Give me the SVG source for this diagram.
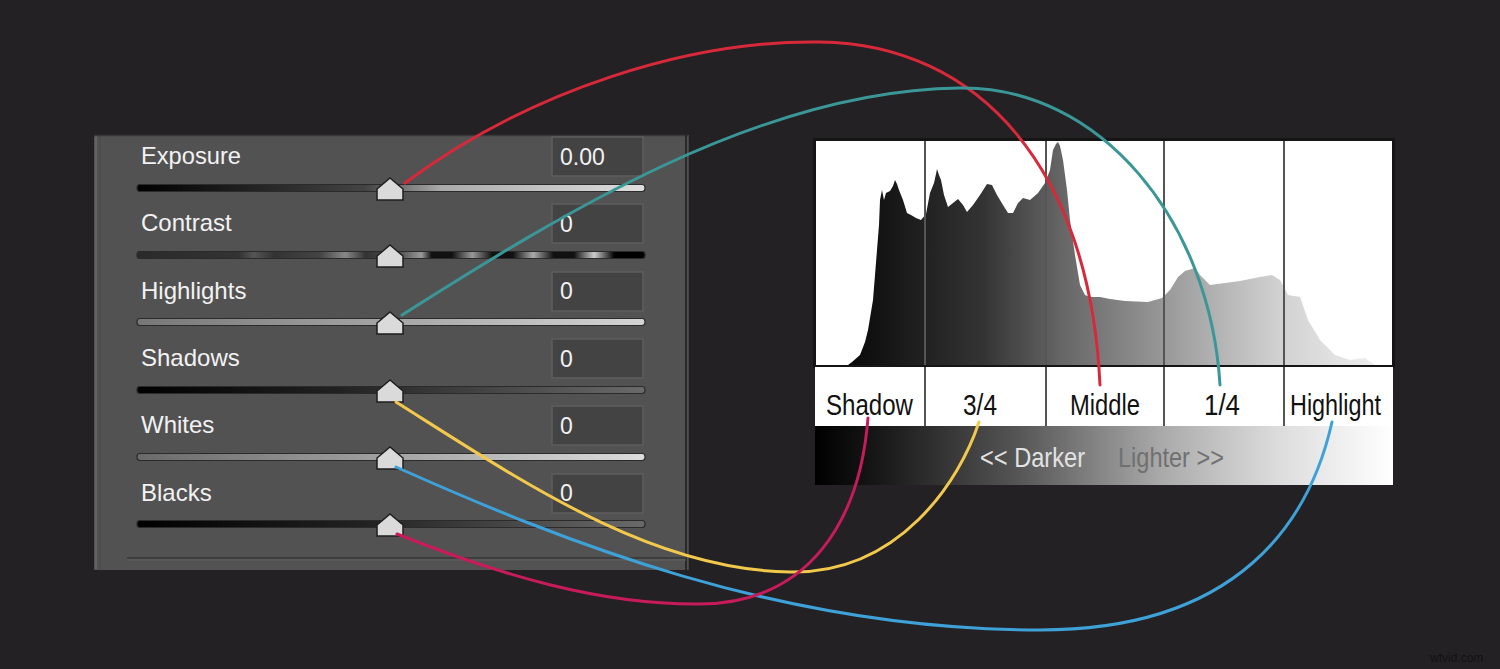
<svg xmlns="http://www.w3.org/2000/svg" width="1500" height="669" viewBox="0 0 1500 669">
<defs>
<style>
.lbl{font-family:"Liberation Sans",Arial,sans-serif;font-size:24px;fill:#f2f2f2}
.val{font-family:"Liberation Sans",Arial,sans-serif;font-size:23px;fill:#f2f2f2}
.box{fill:#444344;stroke:#5e5d5e;stroke-width:1.5}
.trk{stroke:#2b2b2b;stroke-width:1.2}
.thumb{fill:#dadada;stroke:#1e1e1e;stroke-width:1.5}
.hl{font-family:"Liberation Sans",Arial,sans-serif;font-size:29px;fill:#111}
.gl{font-family:"Liberation Sans",Arial,sans-serif;font-size:28px}
.div{stroke:#555;stroke-width:2}
.con{fill:none;stroke-width:3;stroke-linecap:round}
</style>
<linearGradient id="gExp" x1="0" x2="1"><stop offset="0" stop-color="#000"/><stop offset="0.45" stop-color="#444"/><stop offset="0.6" stop-color="#aaa"/><stop offset="1" stop-color="#ddd"/></linearGradient>
<linearGradient id="gCon" x1="137" x2="645" gradientUnits="userSpaceOnUse">
<stop offset="0" stop-color="#2a2a2a"/><stop offset="0.2" stop-color="#333"/><stop offset="0.23" stop-color="#555"/><stop offset="0.27" stop-color="#333"/>
<stop offset="0.36" stop-color="#444"/><stop offset="0.41" stop-color="#888"/><stop offset="0.45" stop-color="#333"/>
<stop offset="0.52" stop-color="#555"/><stop offset="0.56" stop-color="#999"/><stop offset="0.58" stop-color="#111"/>
<stop offset="0.62" stop-color="#111"/><stop offset="0.66" stop-color="#999"/><stop offset="0.7" stop-color="#111"/>
<stop offset="0.74" stop-color="#111"/><stop offset="0.78" stop-color="#aaa"/><stop offset="0.82" stop-color="#111"/>
<stop offset="0.86" stop-color="#111"/><stop offset="0.9" stop-color="#ccc"/><stop offset="0.94" stop-color="#000"/><stop offset="1" stop-color="#000"/>
</linearGradient>
<linearGradient id="gHi" x1="0" x2="1"><stop offset="0" stop-color="#777"/><stop offset="1" stop-color="#d4d4d4"/></linearGradient>
<linearGradient id="gSh" x1="0" x2="1"><stop offset="0" stop-color="#000"/><stop offset="0.4" stop-color="#222"/><stop offset="1" stop-color="#6a6a6a"/></linearGradient>
<linearGradient id="gWh" x1="0" x2="1"><stop offset="0" stop-color="#6a6a6a"/><stop offset="1" stop-color="#dcdcdc"/></linearGradient>
<linearGradient id="gBl" x1="0" x2="1"><stop offset="0" stop-color="#000"/><stop offset="0.45" stop-color="#222"/><stop offset="1" stop-color="#6a6a6a"/></linearGradient>
<linearGradient id="gHist" x1="850" x2="1380" gradientUnits="userSpaceOnUse"><stop offset="0" stop-color="#0a0a0a"/><stop offset="0.25" stop-color="#333"/><stop offset="0.4" stop-color="#666"/><stop offset="0.6" stop-color="#9a9a9a"/><stop offset="0.8" stop-color="#cfcfcf"/><stop offset="1" stop-color="#efefef"/></linearGradient>
<linearGradient id="gBar" x1="815" x2="1393" gradientUnits="userSpaceOnUse"><stop offset="0" stop-color="#000"/><stop offset="0.12" stop-color="#1a1a1a"/><stop offset="0.35" stop-color="#555"/><stop offset="0.6" stop-color="#aaa"/><stop offset="0.8" stop-color="#dcdcdc"/><stop offset="1" stop-color="#fff"/></linearGradient>
<path id="th" d="M0,0 L13,11 L13,22 L-13,22 L-13,11 Z"/>
</defs>
<rect width="1500" height="669" fill="#232123"/>

<g id="panel">
<rect x="94" y="135" width="595" height="435" fill="#535253"/>
<line x1="96" y1="136" x2="96" y2="569" stroke="#6a696a" stroke-width="1.5"/>
<line x1="100" y1="136" x2="100" y2="569" stroke="#4a494a" stroke-width="1"/>
<line x1="94" y1="135.5" x2="689" y2="135.5" stroke="#3a393a" stroke-width="1.5"/>
<line x1="686" y1="135" x2="686" y2="570" stroke="#2a292a" stroke-width="2"/>
<line x1="688.5" y1="135" x2="688.5" y2="570" stroke="#444" stroke-width="1"/>
<line x1="127" y1="558" x2="686" y2="558" stroke="#3e3d3e" stroke-width="2"/>
<line x1="127" y1="560" x2="686" y2="560" stroke="#616061" stroke-width="1"/>
</g>

<g id="exposure">
<text class="lbl" x="141" y="164" textLength="100" lengthAdjust="spacingAndGlyphs">Exposure</text>
<rect class="box" x="552" y="137" width="91" height="39"/>
<text class="val" x="560" y="165">0.00</text>
<rect class="trk" x="137" y="184.5" width="508" height="7" rx="3" fill="url(#gExp)"/>
<use href="#th" x="390" y="178" class="thumb"/>
</g>
<g id="contrast">
<text class="lbl" x="141" y="231">Contrast</text>
<rect class="box" x="552" y="204" width="91" height="39"/>
<text class="val" x="560" y="232">0</text>
<rect class="trk" x="137" y="251.5" width="508" height="7" rx="3" fill="url(#gCon)"/>
<use href="#th" x="390" y="245" class="thumb"/>
</g>
<g id="highlights">
<text class="lbl" x="141" y="299">Highlights</text>
<rect class="box" x="552" y="272" width="91" height="39"/>
<text class="val" x="560" y="299">0</text>
<rect class="trk" x="137" y="318.5" width="508" height="7" rx="3" fill="url(#gHi)"/>
<use href="#th" x="390" y="312" class="thumb"/>
</g>
<g id="shadows">
<text class="lbl" x="141" y="366">Shadows</text>
<rect class="box" x="552" y="339" width="91" height="39"/>
<text class="val" x="560" y="367">0</text>
<rect class="trk" x="137" y="386.5" width="508" height="7" rx="3" fill="url(#gSh)"/>
<use href="#th" x="390" y="380" class="thumb"/>
</g>
<g id="whites">
<text class="lbl" x="141" y="433">Whites</text>
<rect class="box" x="552" y="406" width="91" height="39"/>
<text class="val" x="560" y="434">0</text>
<rect class="trk" x="137" y="453.5" width="508" height="7" rx="3" fill="url(#gWh)"/>
<use href="#th" x="390" y="447" class="thumb"/>
</g>
<g id="blacks">
<text class="lbl" x="141" y="501">Blacks</text>
<rect class="box" x="552" y="474" width="91" height="39"/>
<text class="val" x="560" y="501">0</text>
<rect class="trk" x="137" y="520.5" width="508" height="7" rx="3" fill="url(#gBl)"/>
<use href="#th" x="390" y="514" class="thumb"/>
</g>

<g id="histogram">
<rect x="813" y="138" width="582" height="230" fill="#151515"/>
<rect x="816" y="141" width="576" height="224" fill="#fff"/>
<path fill="url(#gHist)" d="M848,365 L852,362 L860,355 L865,342 L868,330 L871,312 L873,300 L875,275 L877,250 L879,225 L880,200 L882,190 L884,200 L886,193 L890,191 L893,186 L895,180 L897,184 L899,190 L903,200 L907,213 L911,215 L916,218 L921,220 L926,214 L930,193 L934,183 L936,174 L937,169 L939,175 L941,180 L944,195 L948,207 L953,203 L958,199 L963,205 L967,212 L973,205 L980,195 L987,184 L992,185 L997,195 L1003,205 L1008,213 L1013,213 L1018,203 L1023,198 L1030,200 L1038,193 L1045,183 L1050,170 L1053,150 L1056,144 L1058,142 L1060,146 L1063,160 L1067,190 L1070,220 L1075,255 L1080,285 L1085,295 L1090,297 L1100,297 L1110,299 L1125,301 L1148,302 L1162,298 L1170,290 L1178,277 L1185,271 L1195,268 L1200,275 L1210,285 L1225,283 L1240,281 L1260,277 L1272,275 L1280,280 L1288,295 L1300,297 L1308,320 L1320,340 L1335,355 L1350,360 L1365,358 L1375,365 Z"/>
<line class="div" x1="925" y1="141" x2="925" y2="365"/>
<line class="div" x1="1046" y1="141" x2="1046" y2="365"/>
<line class="div" x1="1164" y1="141" x2="1164" y2="365"/>
<line class="div" x1="1284" y1="141" x2="1284" y2="365"/>
<rect x="815" y="367" width="578" height="59" fill="#fff"/>
<line class="div" x1="925" y1="367" x2="925" y2="426"/>
<line class="div" x1="1046" y1="367" x2="1046" y2="426"/>
<line class="div" x1="1164" y1="367" x2="1164" y2="426"/>
<line class="div" x1="1284" y1="367" x2="1284" y2="426"/>
<text class="hl" x="826" y="415" textLength="87" lengthAdjust="spacingAndGlyphs">Shadow</text>
<text class="hl" x="963" y="415" textLength="34" lengthAdjust="spacingAndGlyphs">3/4</text>
<text class="hl" x="1070" y="415" textLength="70" lengthAdjust="spacingAndGlyphs">Middle</text>
<text class="hl" x="1204" y="415" textLength="36" lengthAdjust="spacingAndGlyphs">1/4</text>
<text class="hl" x="1290" y="415" textLength="91" lengthAdjust="spacingAndGlyphs">Highlight</text>
<rect x="815" y="426" width="578" height="59" fill="url(#gBar)"/>
<text class="gl" x="980" y="467" fill="#e2e2e2" textLength="105" lengthAdjust="spacingAndGlyphs">&lt;&lt; Darker</text>
<text class="gl" x="1118" y="467" fill="#707070" textLength="106" lengthAdjust="spacingAndGlyphs">Lighter &gt;&gt;</text>
</g>

<g id="connectors">
<path class="con" stroke="#d8293b" d="M405,183 C530,90 690,40 820,42 C980,44 1090,170 1100,385"/>
<path class="con" stroke="#3b9797" d="M402,315 C560,215 760,90 960,88 C1100,86 1210,220 1220,385"/>
<path class="con" stroke="#f2c94c" d="M396,402 C520,480 650,570 790,572 C900,574 960,480 979,422"/>
<path class="con" stroke="#3ea1d8" d="M396,467 C560,540 780,630 1040,630 C1240,630 1310,520 1332,422"/>
<path class="con" stroke="#c71b5b" d="M397,534 C500,575 600,605 700,604 C810,603 860,520 868,418"/>
</g>
<text x="1430" y="662" font-family="Liberation Sans,Arial,sans-serif" font-size="12" fill="#121212">wtvid.com</text>
</svg>
